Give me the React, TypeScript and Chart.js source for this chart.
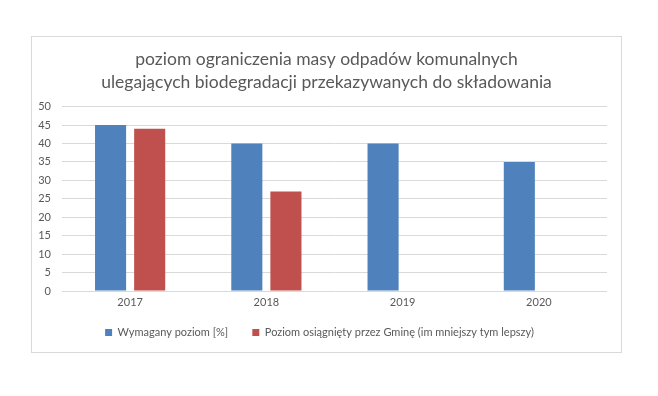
import React, { useEffect, useRef } from "react";
import { Chart, registerables } from "chart.js";

Chart.register(...registerables);

const categories = ["2017", "2018", "2019", "2020"];
const requiredLevel = [45, 40, 40, 35];
const achievedLevel: (number | null)[] = [44, 27, null, null];
const seriesNames = [
  "Wymagany poziom [%]",
  "Poziom osiągnięty przez Gminę (im mniejszy tym lepszy)",
];
const titleLines = [
  "poziom ograniczenia masy odpadów komunalnych",
  "ulegających biodegradacji przekazywanych do składowania",
];

const FONT = "Lato, 'Open Sans', sans-serif";

const centerTitle = {
  id: "centerTitle",
  afterLayout(chart: any) {
    const t = chart.titleBlock;
    if (t) {
      t.left = 0;
      t.right = chart.width;
      t.width = chart.width;
    }
  },
};

export default function App() {
  const ref = useRef<HTMLCanvasElement | null>(null);
  useEffect(() => {
    if (!ref.current) return;
    const chart = new Chart(ref.current, {
      type: "bar",
      data: {
        labels: categories,
        datasets: [
          {
            label: seriesNames[0],
            data: requiredLevel,
            backgroundColor: "#4f81bd",
            categoryPercentage: 0.574,
            barPercentage: 0.795,
          },
          {
            label: seriesNames[1],
            data: achievedLevel,
            backgroundColor: "#c0504d",
            categoryPercentage: 0.574,
            barPercentage: 0.795,
          },
        ],
      },
      options: {
        animation: false,
        responsive: false,
        maintainAspectRatio: false,
        layout: { padding: { left: 0, right: 14, top: 0, bottom: 4 } },
        plugins: {
          title: {
            display: true,
            text: titleLines,
            color: "#595959",
            font: { family: FONT, size: 17.5, weight: "normal", lineHeight: 1.36 },
            padding: { top: 10, bottom: 12 },
          },
          legend: {
            position: "bottom",
            labels: {
              boxWidth: 7,
              boxHeight: 7,
              padding: 10,
              color: "#595959",
              font: { family: FONT, size: 11 },
              generateLabels: (c: any) => {
                const items = Chart.defaults.plugins.legend.labels.generateLabels(c);
                return items.map((it: any, i: number) => ({
                  ...it,
                  text: i === 0 ? it.text + "     " : it.text,
                }));
              },
            },
          },
          tooltip: { enabled: false },
        },
        scales: {
          x: {
            grid: { display: false, drawTicks: false },
            border: { display: false },
            ticks: { color: "#595959", font: { family: FONT, size: 11 }, padding: 5 },
            afterFit: (scale: any) => {
              scale.height = 26;
            },
          },
          y: {
            min: 0,
            max: 50,
            ticks: {
              stepSize: 5,
              autoSkip: false,
              color: "#595959",
              font: { family: FONT, size: 11 },
              padding: 11,
            },
            grid: { color: "#d9d9d9", drawTicks: false },
            border: { display: false },
            afterFit: (scale: any) => {
              scale.width = 30;
            },
          },
        },
      },
      plugins: [centerTitle],
    });
    return () => chart.destroy();
  }, []);
  return (
    <div
      style={{
        position: "absolute",
        left: 31,
        top: 36,
        width: 589,
        height: 315,
        border: "1px solid #d9d9d9",
        background: "#fff",
      }}
    >
      <canvas ref={ref} width={589} height={315} style={{ display: "block" }} />
    </div>
  );
}
